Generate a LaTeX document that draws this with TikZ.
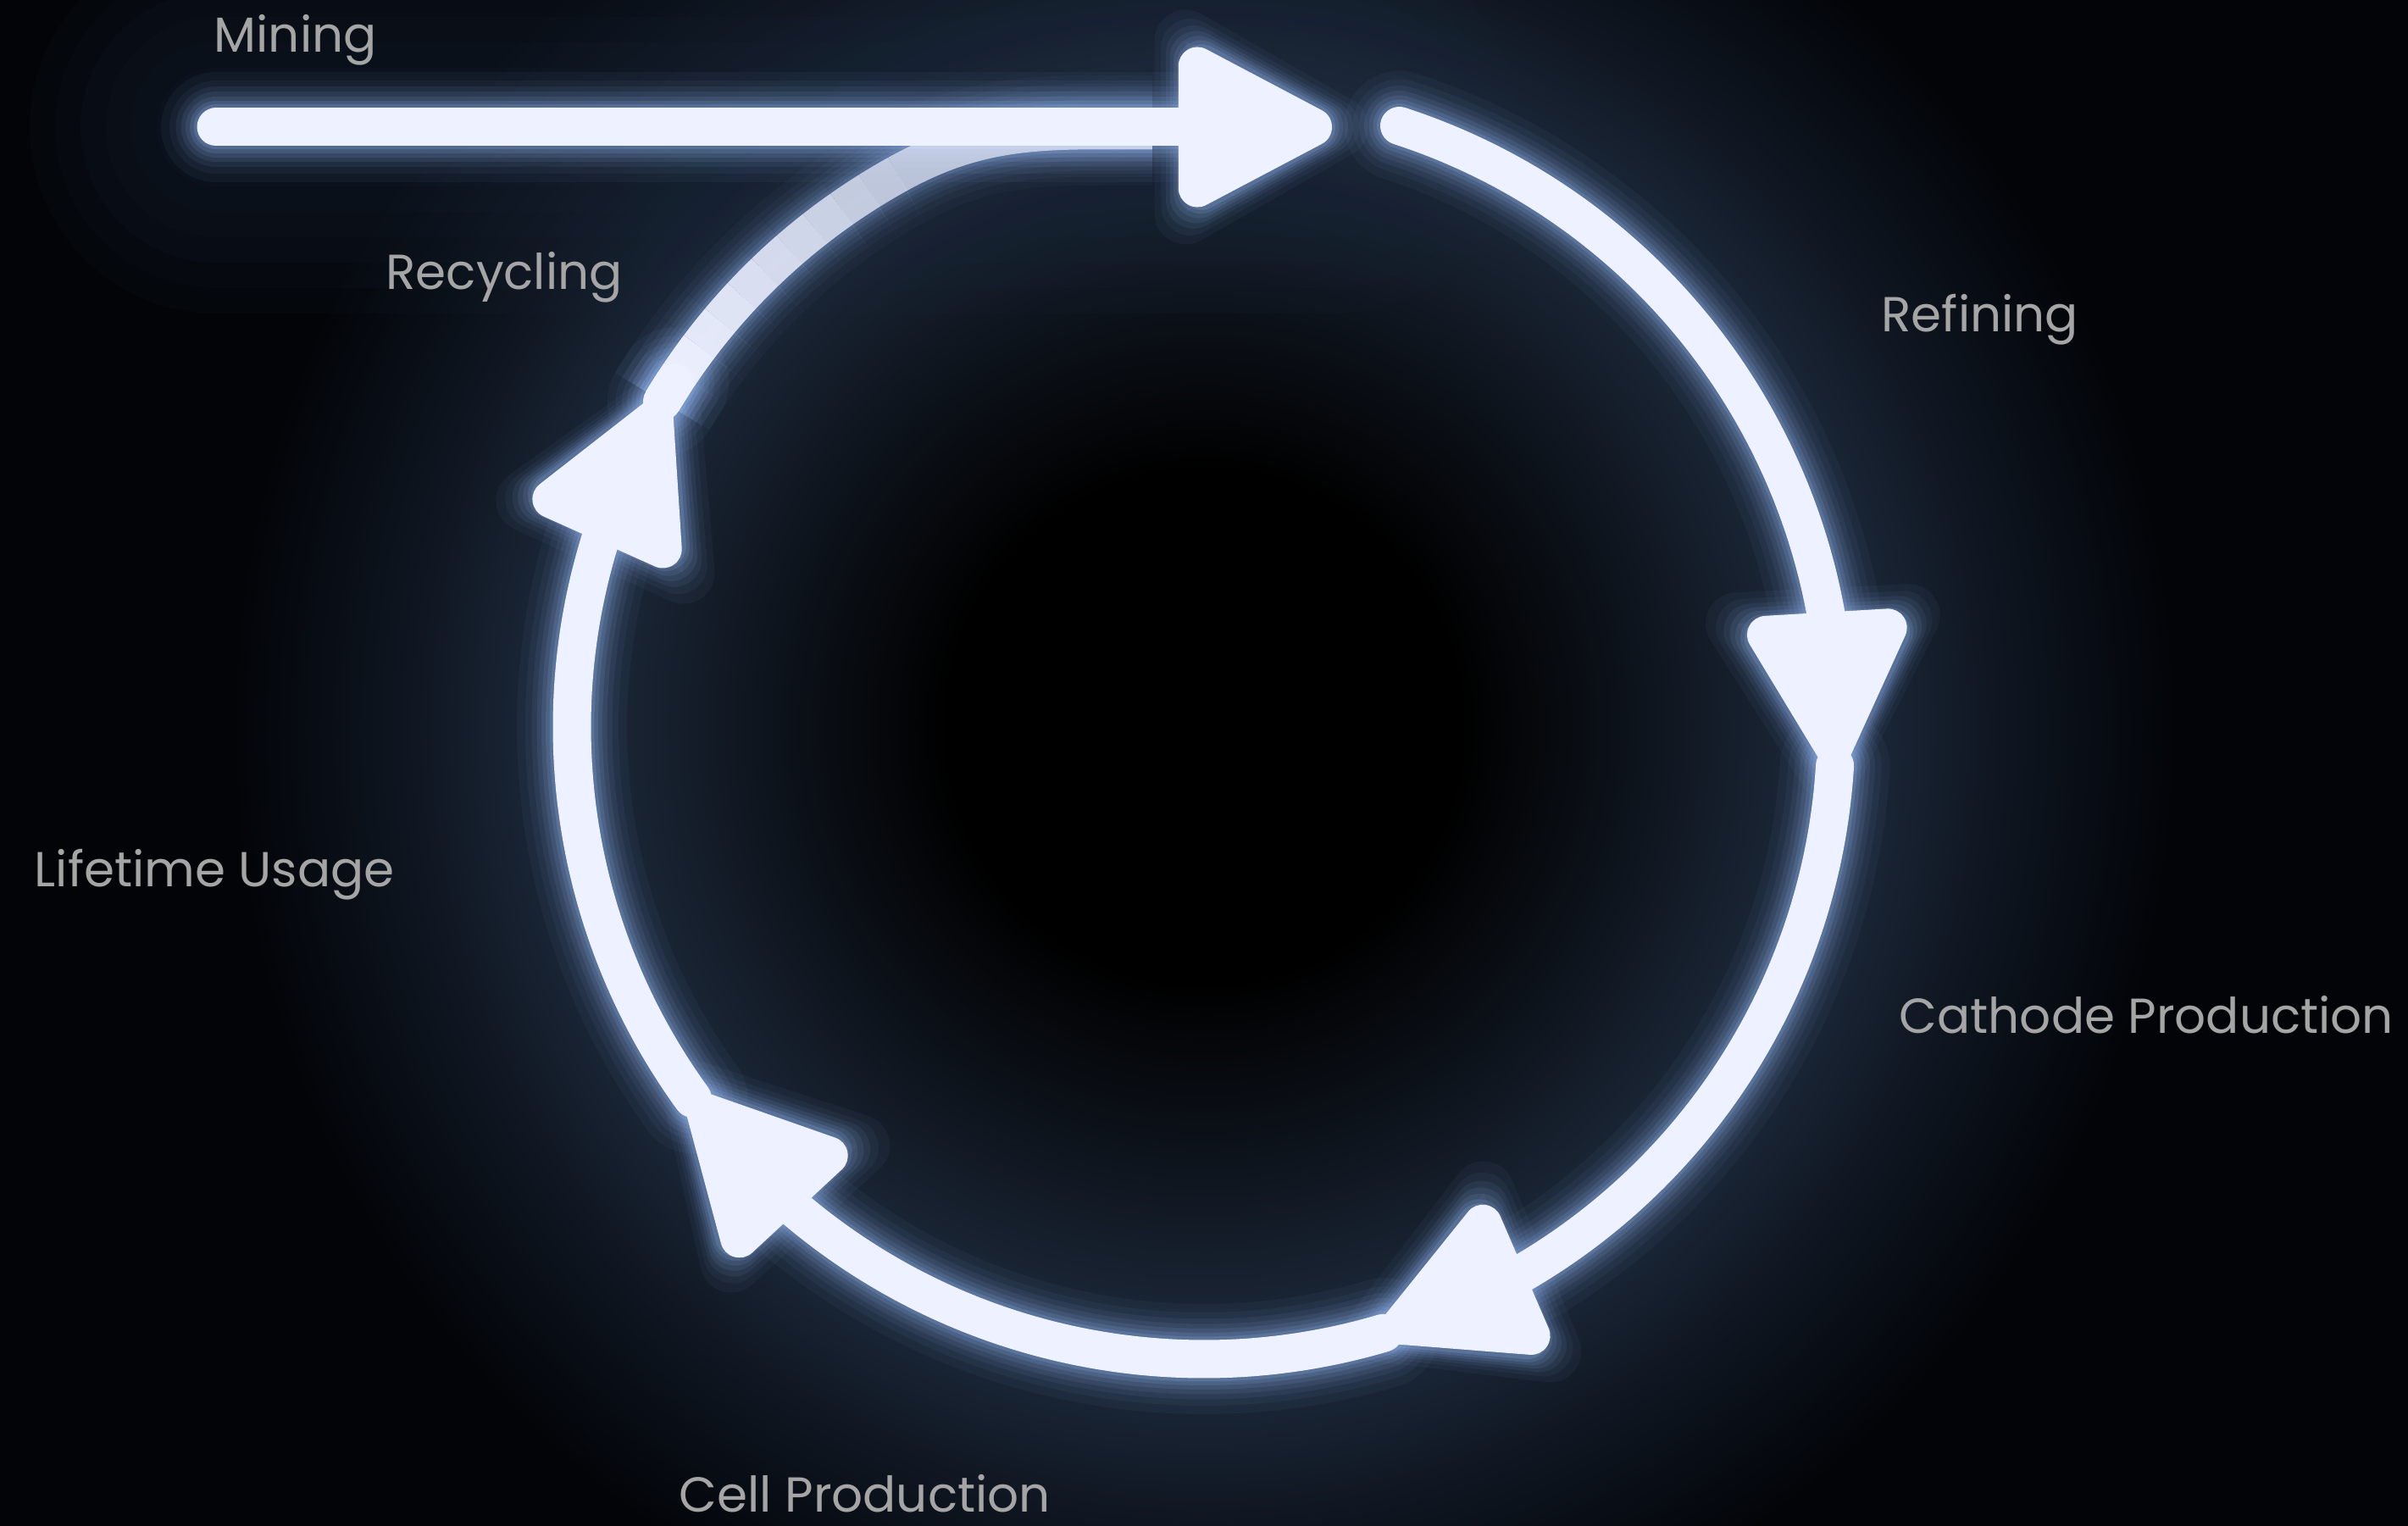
\documentclass[tikz,border=0pt]{standalone}
\usepackage{fontspec}
\setmainfont{Poppins}
\usetikzlibrary{arrows.meta,bending,calc}

\definecolor{nightbg}{RGB}{2,4,8}
\definecolor{ringnavy}{RGB}{30,43,62}
\definecolor{neonwhite}{RGB}{238,241,255}
\definecolor{neonhalo}{RGB}{140,175,232}
\definecolor{labelgray}{RGB}{165,165,165}

% 25bp of the shading = radius of the shaded circle (14cm)
\pgfdeclareradialshading{ringglow}{\pgfpoint{0bp}{0bp}}{%
  color(0bp)=(black); color(5.4bp)=(black);
  color(11.6bp)=(ringnavy!75!black); color(13.3bp)=(ringnavy);
  color(16.1bp)=(ringnavy!55!nightbg); color(20.5bp)=(nightbg);
  color(50bp)=(nightbg)}

\begin{document}
\begin{tikzpicture}[
    flow/.style n args={3}{line width=#1mm, draw=#3, opacity=#2, line cap=round},
    lbl/.style={font=\fontsize{16.5}{20}\selectfont, text=labelgray, inner sep=0pt, anchor=base west}
  ]
    \useasboundingbox (0,0) rectangle (28.42,18.01);
    \clip (0,0) rectangle (28.42,18.01);
    \fill[nightbg] (0,0) rectangle (28.42,18.01);

    % Stations on the loop
    \coordinate (c) at (14.21,9.43);
    \coordinate (minestart) at (2.55,16.51);
    \coordinate (mineend) at (15.72,16.51);
    \coordinate (refine) at ($(c)+(72:7.46)$);
    \coordinate (cathode) at ($(c)+(-3.5:7.46)$);
    \coordinate (cell) at ($(c)+(-73.5:7.46)$);
    \coordinate (usage) at ($(c)+(216:7.46)$);
    \coordinate (recycle) at ($(c)+(149:7.46)$);
    \coordinate (fadeend) at ($(c)+(119:7.46)$);
    \coordinate (merge) at (13.6,16.47);

    % Dark glow behind the ring and the bar
    \shade[shading=ringglow] (c) circle[radius=14cm];
    \foreach \w in {44,38,...,8}
      \draw[flow={\w}{0.09}{ringnavy}] (minestart) -- (mineend);

    % Halo layers, then the bright core
    \foreach \w/\o/\col in {13/0.05/neonhalo, 11/0.06/neonhalo, 9.5/0.08/neonhalo,
        8.3/0.1/neonhalo, 7.2/0.12/neonhalo, 6.2/0.16/neonhalo, 5.3/0.22/neonhalo,
        4.5/1/neonwhite}{
      \pgfmathsetmacro\tl{21+\w-4.5}
      \pgfmathsetmacro\tw{20.5+1.2*(\w-4.5)}
      \pgfmathsetmacro\ts{-(\w-4.5)/2}
      \pgfmathsetmacro\oe{0.68*\o}
      % recycling arc, fading towards the bar
      \draw[flow={\w}{\o}{\col}] (recycle) arc[start angle=149, end angle=147, radius=7.46];
      \foreach \a in {149,146,...,122}{
        \pgfmathsetmacro\op{\o*(1-0.33*(149-\a)/30)}
        \draw[flow={\w}{\op}{\col}, line cap=butt]
          ($(c)+(\a:7.46)$) arc[start angle=\a, end angle=\a-3, radius=7.46];
      }
      \draw[flow={\w}{\oe}{\col}, line cap=butt] (fadeend) to[out=29, in=180] (merge);
      \draw[flow={\w}{\o}{\col}, -{Triangle[length=\tl mm, width=\tw mm, sep=\ts mm, round]}]
        (minestart) -- (mineend);
      \draw[flow={\w}{\o}{\col}, -{Triangle[length=\tl mm, width=\tw mm, sep=\ts mm, round]}]
        (refine) arc[start angle=72, end angle=-3.5, radius=7.46];
      \draw[flow={\w}{\o}{\col}, -{Triangle[length=\tl mm, width=\tw mm, sep=\ts mm, round]}]
        (cathode) arc[start angle=-3.5, end angle=-73.5, radius=7.46];
      \draw[flow={\w}{\o}{\col}, -{Triangle[length=\tl mm, width=\tw mm, sep=\ts mm, round]}]
        (cell) arc[start angle=-73.5, end angle=-144, radius=7.46];
      \draw[flow={\w}{\o}{\col}, -{Triangle[length=\tl mm, width=\tw mm, sep=\ts mm, round]}]
        (usage) arc[start angle=216, end angle=149, radius=7.46];
    }

    % Stage labels
    \node[lbl] (mining) at (2.52,17.39) {Mining};
    \node[lbl] (recycling) at (4.55,14.59) {Recycling};
    \node[lbl] (refining) at (22.2,14.09) {Refining};
    \node[lbl] (cathodeprod) at (22.41,5.81) {Cathode Production};
    \node[lbl] (lifetime) at (0.40,7.54) {Lifetime Usage};
    \node[lbl] (cellprod) at (8.01,0.16) {Cell Production};
\end{tikzpicture}
\end{document}
